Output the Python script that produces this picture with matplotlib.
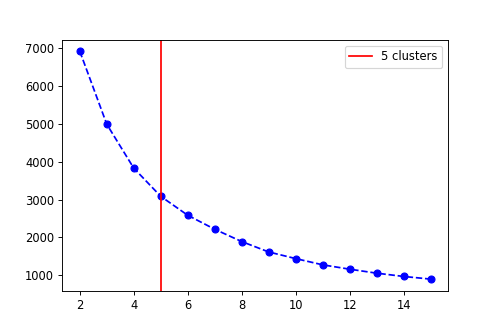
import matplotlib
matplotlib.use("Agg")
import matplotlib.pyplot as plt

k_values = list(range(2, 16))
inertia = [6920, 4990, 3830, 3085, 2585, 2215, 1890, 1615, 1440, 1275, 1160, 1055, 968, 898]
chosen_k = 5

fig, ax = plt.subplots(figsize=(6, 4), dpi=83)
fig.subplots_adjust(left=0.125, right=0.9, top=0.88, bottom=0.125)
ax.plot(k_values, inertia, "bo--")
ax.axvline(chosen_k, color="red", label=f"{chosen_k} clusters")
ax.legend(loc="upper right")

fig.savefig("out.png", dpi=83)
